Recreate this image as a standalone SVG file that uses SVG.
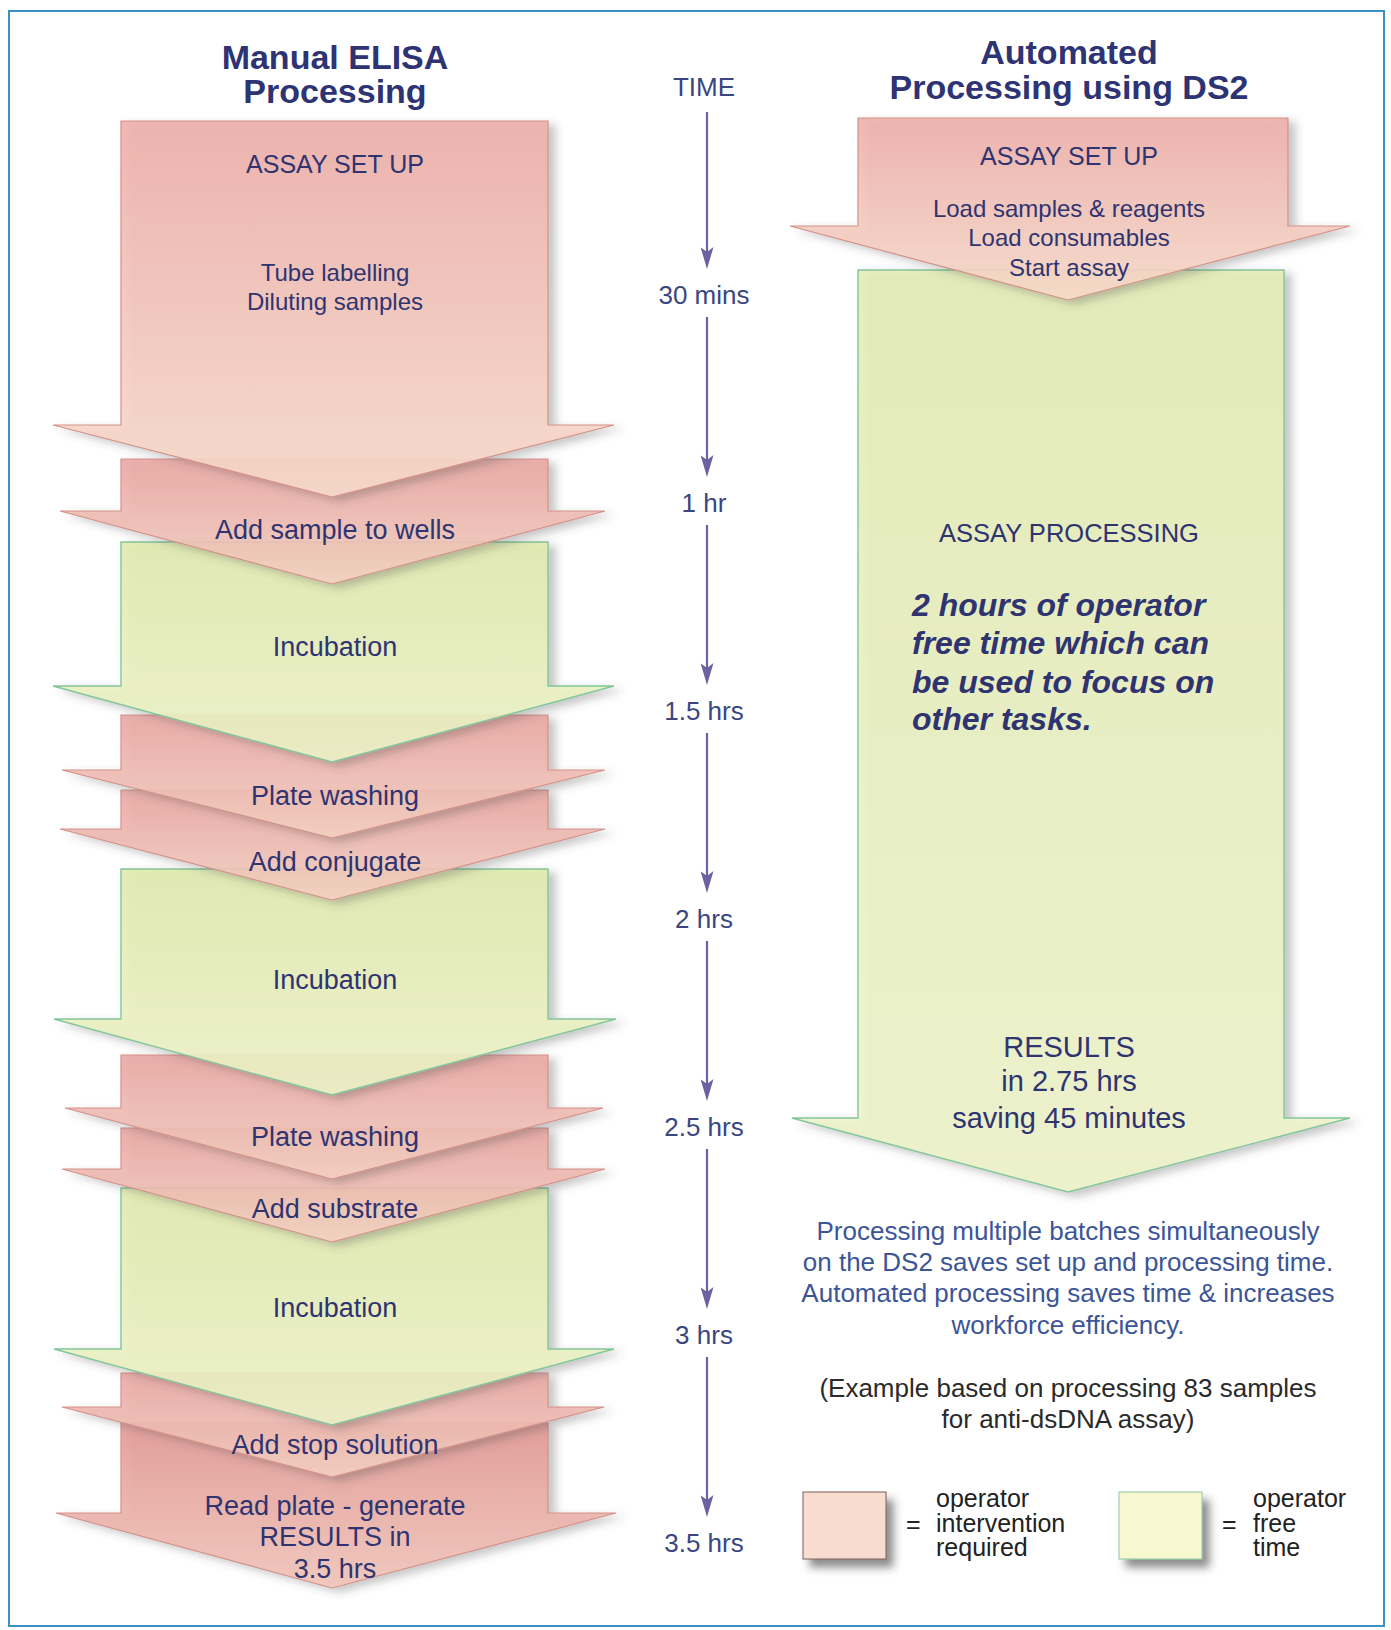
<svg xmlns="http://www.w3.org/2000/svg" width="1391" height="1630" viewBox="0 0 1391 1630">
<defs>
  <linearGradient id="gPinkA" x1="0" y1="0" x2="0" y2="1">
    <stop offset="0" stop-color="#eeaea8"/>
    <stop offset="1" stop-color="#f9dccc"/>
  </linearGradient>
  <linearGradient id="gPink" x1="0" y1="0" x2="0" y2="1">
    <stop offset="0" stop-color="#e9a5a0"/>
    <stop offset="1" stop-color="#f6d3c4"/>
  </linearGradient>
  <linearGradient id="gPinkD" x1="0" y1="0" x2="0" y2="1">
    <stop offset="0" stop-color="#e29793"/>
    <stop offset="1" stop-color="#f3c6ba"/>
  </linearGradient>
  <linearGradient id="gGreen" x1="0" y1="0" x2="0" y2="1">
    <stop offset="0" stop-color="#e0eaad"/>
    <stop offset="1" stop-color="#eff4c9"/>
  </linearGradient>
  <linearGradient id="gGreenBig" x1="0" y1="0" x2="0" y2="1">
    <stop offset="0" stop-color="#e4ecb5"/>
    <stop offset="1" stop-color="#eef4cb"/>
  </linearGradient>
  <filter id="sh" x="-10%" y="-10%" width="130%" height="130%">
    <feDropShadow dx="7" dy="4" stdDeviation="4" flood-color="#4a4a4a" flood-opacity="0.35"/>
  </filter>
  <filter id="shL" x="-20%" y="-20%" width="150%" height="160%">
    <feDropShadow dx="7" dy="8" stdDeviation="4" flood-color="#333" flood-opacity="0.55"/>
  </filter>
  <marker id="ah" markerUnits="userSpaceOnUse" viewBox="0 0 22 13" markerWidth="22" markerHeight="13" refX="14" refY="6.5" orient="auto">
    <path d="M0,0 L22,6.5 L0,13 L5,6.5 Z" fill="#6a62a2"/>
  </marker>
</defs>
<style>
  .t{font-family:"Liberation Sans",Arial,Helvetica,sans-serif;fill:#2f3471;text-anchor:middle}
  .title{font-size:34px;font-weight:bold;fill:#2e3373}
  .step{font-size:27px}
  .sub{font-size:24px}
  .hd{font-size:25px}
  .time{font-size:26px;fill:#3a4680}
  .bi{font-size:32px;font-weight:bold;font-style:italic;text-anchor:start}
  .res{font-size:29px}
  .desc{font-size:26px;fill:#3b5598}
  .ex{font-size:26px;fill:#2a2a2a}
  .lg{font-size:25px;fill:#222;text-anchor:start}
  .pk{stroke:#d3918a;stroke-width:1.2;fill-opacity:0.88;filter:url(#sh)}
  .gr{stroke:#84c69b;stroke-width:1.4;fill-opacity:0.88;filter:url(#sh)}
  .ax{stroke:#6a62a2;stroke-width:2.2;fill:none;marker-end:url(#ah)}
</style>
<rect width="1391" height="1630" fill="#ffffff"/>
<rect x="9" y="11" width="1375" height="1615" fill="none" stroke="#3b90c6" stroke-width="2"/>

<g id="titles">
  <text class="t title" x="335" y="69">Manual ELISA</text>
  <text class="t title" x="335" y="103">Processing</text>
  <text class="t title" x="1069" y="64">Automated</text>
  <text class="t title" x="1069" y="99">Processing using DS2</text>
  <text class="t time" x="704" y="96">TIME</text>
</g>

<!-- left column: drawn bottom-up so earlier steps overlap later ones -->
<g id="step11">
  <path class="pk" fill="url(#gPinkD)" d="M121,1423 H548 V1513 H616 L332,1588 L56,1513 H121 Z"/>
  <text class="t step" x="335" y="1515">Read plate - generate</text>
  <text class="t step" x="335" y="1546">RESULTS in</text>
  <text class="t step" x="335" y="1578">3.5 hrs</text>
</g>
<g id="step10">
  <path class="pk" fill="url(#gPink)" d="M121,1373 H548 V1407 H604 L332,1477 L62,1407 H121 Z"/>
  <text class="t step" x="335" y="1454">Add stop solution</text>
</g>
<g id="step9">
  <path class="gr" fill="url(#gGreen)" d="M121,1188 H548 V1349 H614 L332,1425 L54,1349 H121 Z"/>
  <text class="t step" x="335" y="1317">Incubation</text>
</g>
<g id="step8">
  <path class="pk" fill="url(#gPink)" d="M121,1128 H548 V1169 H605 L332,1242 L62,1169 H121 Z"/>
  <text class="t step" x="335" y="1218">Add substrate</text>
</g>
<g id="step7">
  <path class="pk" fill="url(#gPink)" d="M121,1055 H548 V1108 H603 L332,1179 L65,1108 H121 Z"/>
  <text class="t step" x="335" y="1146">Plate washing</text>
</g>
<g id="step6">
  <path class="gr" fill="url(#gGreen)" d="M121,869 H548 V1019 H616 L332,1095 L54,1019 H121 Z"/>
  <text class="t step" x="335" y="989">Incubation</text>
</g>
<g id="step5">
  <path class="pk" fill="url(#gPink)" d="M121,790 H548 V829 H605 L332,900 L60,829 H121 Z"/>
  <text class="t step" x="335" y="871">Add conjugate</text>
</g>
<g id="step4">
  <path class="pk" fill="url(#gPink)" d="M121,715 H548 V770 H605 L332,838 L62,770 H121 Z"/>
  <text class="t step" x="335" y="805">Plate washing</text>
</g>
<g id="step3">
  <path class="gr" fill="url(#gGreen)" d="M121,542 H548 V686 H614 L332,762 L53,686 H121 Z"/>
  <text class="t step" x="335" y="656">Incubation</text>
</g>
<g id="step2">
  <path class="pk" fill="url(#gPink)" d="M121,459 H548 V511 H605 L332,584 L60,511 H121 Z"/>
  <text class="t step" x="335" y="539">Add sample to wells</text>
</g>
<g id="step1">
  <path class="pk" fill="url(#gPinkA)" d="M121,121 H548 V425 H614 L332,497 L53,425 H121 Z"/>
  <text class="t hd" x="335" y="173">ASSAY SET UP</text>
  <text class="t sub" x="335" y="281">Tube labelling</text>
  <text class="t sub" x="335" y="310">Diluting samples</text>
</g>

<!-- time axis -->
<g id="connectors">
  <line class="ax" x1="707" y1="112" x2="707" y2="261"/>
  <line class="ax" x1="707" y1="317" x2="707" y2="469"/>
  <line class="ax" x1="707" y1="525" x2="707" y2="677"/>
  <line class="ax" x1="707" y1="733" x2="707" y2="885"/>
  <line class="ax" x1="707" y1="941" x2="707" y2="1093"/>
  <line class="ax" x1="707" y1="1149" x2="707" y2="1301"/>
  <line class="ax" x1="707" y1="1357" x2="707" y2="1509"/>
</g>
<g id="time-labels">
  <text class="t time" x="704" y="304">30 mins</text>
  <text class="t time" x="704" y="512">1 hr</text>
  <text class="t time" x="704" y="720">1.5 hrs</text>
  <text class="t time" x="704" y="928">2 hrs</text>
  <text class="t time" x="704" y="1136">2.5 hrs</text>
  <text class="t time" x="704" y="1344">3 hrs</text>
  <text class="t time" x="704" y="1552">3.5 hrs</text>
</g>

<!-- right column -->
<g id="auto-processing">
  <path class="gr" fill="url(#gGreenBig)" d="M858,270 H1284 V1118 H1350 L1068,1192 L792,1118 H858 Z"/>
  <text class="t" style="font-size:25.5px" x="1069" y="542">ASSAY PROCESSING</text>
  <text class="t bi" x="912" y="616">2 hours of operator</text>
  <text class="t bi" x="912" y="654">free time which can</text>
  <text class="t bi" x="912" y="693">be used to focus on</text>
  <text class="t bi" x="912" y="730">other tasks.</text>
  <text class="t res" x="1069" y="1057">RESULTS</text>
  <text class="t res" x="1069" y="1091">in 2.75 hrs</text>
  <text class="t res" x="1069" y="1128">saving 45 minutes</text>
</g>
<g id="auto-setup">
  <path class="pk" fill="url(#gPinkA)" d="M858,118 H1288 V226 H1350 L1068,300 L790,226 H858 Z"/>
  <text class="t hd" x="1069" y="165">ASSAY SET UP</text>
  <text class="t sub" x="1069" y="217">Load samples &amp; reagents</text>
  <text class="t sub" x="1069" y="246">Load consumables</text>
  <text class="t sub" x="1069" y="276">Start assay</text>
</g>

<g id="notes">
  <text class="t desc" x="1068" y="1240">Processing multiple batches simultaneously</text>
  <text class="t desc" x="1068" y="1271">on the DS2 saves set up and processing time.</text>
  <text class="t desc" x="1068" y="1302">Automated processing saves time &amp; increases</text>
  <text class="t desc" x="1068" y="1334">workforce efficiency.</text>
  <text class="t ex" x="1068" y="1397">(Example based on processing 83 samples</text>
  <text class="t ex" x="1068" y="1428">for anti-dsDNA assay)</text>
</g>

<g id="legend-intervention">
  <rect x="803" y="1492" width="83" height="67" fill="#f8dcd0" stroke="#7a5d58" stroke-width="1" filter="url(#shL)"/>
  <text class="t lg" x="906" y="1533">=</text>
  <text class="t lg" x="936" y="1507">operator</text>
  <text class="t lg" x="936" y="1532">intervention</text>
  <text class="t lg" x="936" y="1556">required</text>
</g>
<g id="legend-free">
  <rect x="1119" y="1492" width="83" height="67" fill="#f7f8d0" stroke="#8cc7a0" stroke-width="1" filter="url(#shL)"/>
  <text class="t lg" x="1222" y="1533">=</text>
  <text class="t lg" x="1253" y="1507">operator</text>
  <text class="t lg" x="1253" y="1532">free</text>
  <text class="t lg" x="1253" y="1556">time</text>
</g>
</svg>
